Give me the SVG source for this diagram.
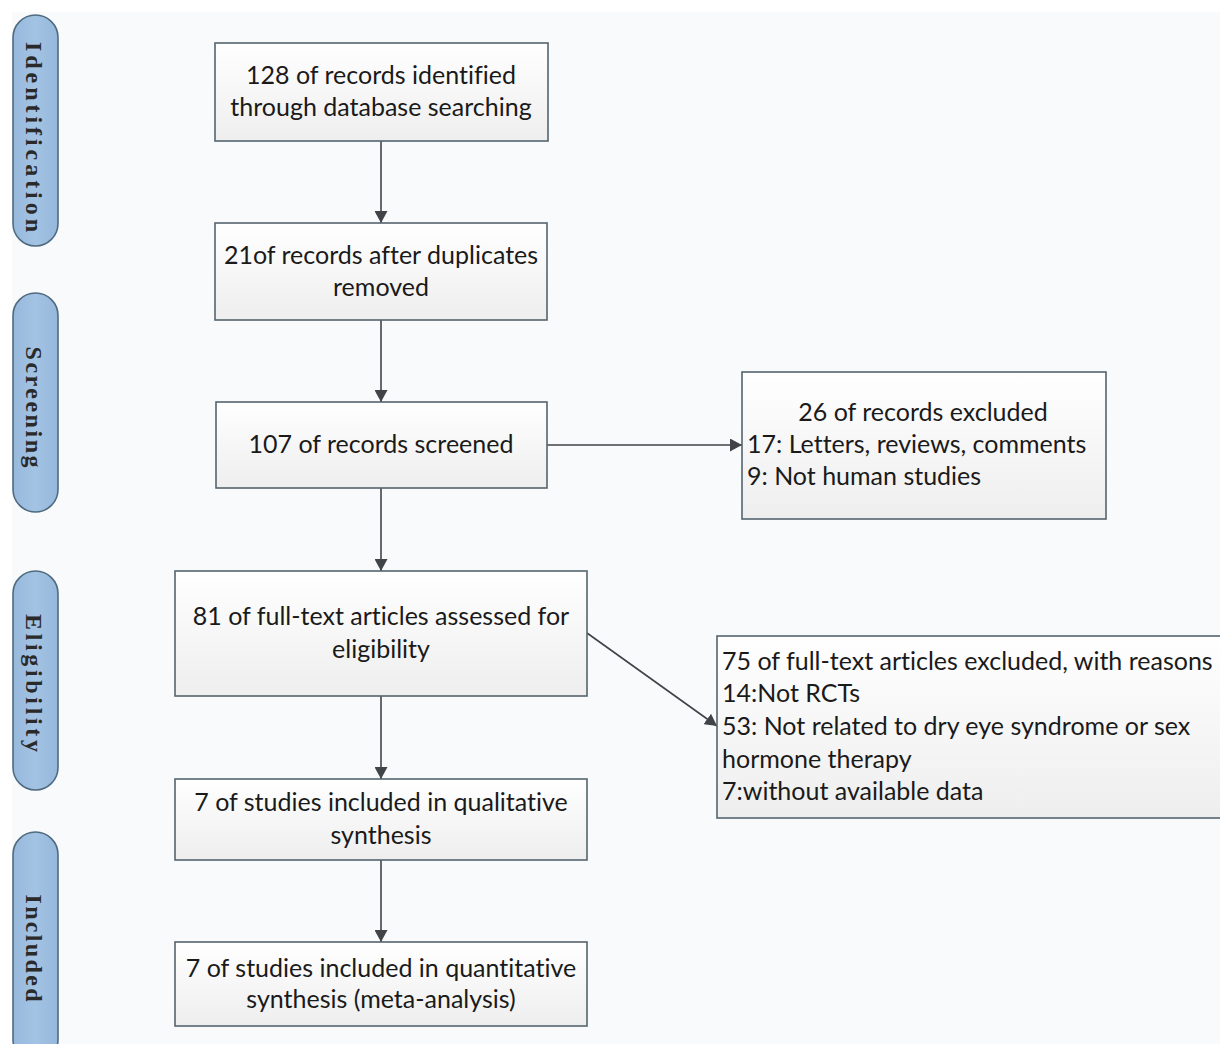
<svg xmlns="http://www.w3.org/2000/svg" width="1220" height="1044" viewBox="0 0 1220 1044">
<defs>
<linearGradient id="boxg" x1="0" y1="0" x2="0" y2="1">
<stop offset="0" stop-color="#ffffff"/>
<stop offset="1" stop-color="#eeeeee"/>
</linearGradient>
<linearGradient id="pillg" x1="0" y1="0" x2="1" y2="0">
<stop offset="0" stop-color="#97b9dd"/>
<stop offset="0.5" stop-color="#a3c3e3"/>
<stop offset="1" stop-color="#95b7da"/>
</linearGradient>
<marker id="arr" markerUnits="userSpaceOnUse" markerWidth="13" markerHeight="13" refX="12" refY="6.5" orient="auto">
<path d="M0,0 L12,6.5 L0,13 z" fill="#404448"/>
</marker>
<style>
.box{fill:url(#boxg);stroke:#56646e;stroke-width:1.6}
.pill{fill:url(#pillg);stroke:#4f6b80;stroke-width:1.6}
.t{font-family:Lato,"Open Sans","Liberation Sans",sans-serif;font-size:25px;fill:#1a1a1a;font-variant-ligatures:none}
.c{text-anchor:middle}
.p{font-family:"Liberation Serif","DejaVu Serif",serif;font-size:24px;font-weight:bold;fill:#2a2a2a;text-anchor:middle}
.edge{stroke:#404448;stroke-width:1.6;fill:none;marker-end:url(#arr)}
</style>
</defs>
<rect x="0" y="0" width="1220" height="1044" fill="#ffffff"/>
<rect x="12" y="12" width="1208" height="1032" fill="#f9fafc"/>

<g id="phase-identification">
<rect class="pill" x="13" y="15" width="45" height="231" rx="22.5"/>
<text class="p" transform="translate(26,137) rotate(90)" textLength="190" lengthAdjust="spacing">Identification</text>
</g>
<g id="phase-screening">
<rect class="pill" x="13" y="293" width="45" height="219" rx="22.5"/>
<text class="p" transform="translate(26,407) rotate(90)" textLength="121" lengthAdjust="spacing">Screening</text>
</g>
<g id="phase-eligibility">
<rect class="pill" x="13" y="571" width="45" height="219" rx="22.5"/>
<text class="p" transform="translate(26,683) rotate(90)" textLength="138" lengthAdjust="spacing">Eligibility</text>
</g>
<g id="phase-included">
<rect class="pill" x="13" y="832" width="45" height="230" rx="22.5"/>
<text class="p" transform="translate(26,948) rotate(90)" textLength="107" lengthAdjust="spacing">Included</text>
</g>

<g id="connectors">
<line class="edge" x1="381" y1="141" x2="381" y2="223"/>
<line class="edge" x1="381" y1="320" x2="381" y2="402"/>
<line class="edge" x1="547" y1="445" x2="742" y2="445"/>
<line class="edge" x1="381" y1="488" x2="381" y2="571"/>
<line class="edge" x1="587" y1="633" x2="717" y2="726"/>
<line class="edge" x1="381" y1="696" x2="381" y2="779"/>
<line class="edge" x1="381" y1="860" x2="381" y2="942"/>
</g>

<g id="n1">
<rect class="box" x="215" y="43" width="333" height="98"/>
<text class="t c" x="381" y="84">128 of records identified</text>
<text class="t c" x="381" y="116">through database searching</text>
</g>
<g id="n2">
<rect class="box" x="215" y="223" width="332" height="97"/>
<text class="t c" x="381" y="264">21of records after duplicates</text>
<text class="t c" x="381" y="296">removed</text>
</g>
<g id="n3">
<rect class="box" x="216" y="402" width="331" height="86"/>
<text class="t c" x="381" y="453">107 of records screened</text>
</g>
<g id="n3x">
<rect class="box" x="742" y="372" width="364" height="147"/>
<text class="t c" x="923" y="421">26 of records excluded</text>
<text class="t" x="747" y="453">17: Letters, reviews, comments</text>
<text class="t" x="747" y="485">9: Not human studies</text>
</g>
<g id="n4">
<rect class="box" x="175" y="571" width="412" height="125"/>
<text class="t c" x="381" y="625">81 of full-text articles assessed for</text>
<text class="t c" x="381" y="658">eligibility</text>
</g>
<g id="n4x">
<rect class="box" x="717" y="636" width="506" height="182"/>
<text class="t" x="722" y="670">75 of full-text articles excluded, with reasons</text>
<text class="t" x="722" y="702">14:Not RCTs</text>
<text class="t" x="722" y="735">53: Not related to dry eye syndrome or sex</text>
<text class="t" x="722" y="768">hormone therapy</text>
<text class="t" x="722" y="800">7:without available data</text>
</g>
<g id="n5">
<rect class="box" x="175" y="779" width="412" height="81"/>
<text class="t c" x="381" y="811">7 of studies included in qualitative</text>
<text class="t c" x="381" y="844">synthesis</text>
</g>
<g id="n6">
<rect class="box" x="175" y="942" width="412" height="84"/>
<text class="t c" x="381" y="977">7 of studies included in quantitative</text>
<text class="t c" x="381" y="1008">synthesis (meta-analysis)</text>
</g>
</svg>
